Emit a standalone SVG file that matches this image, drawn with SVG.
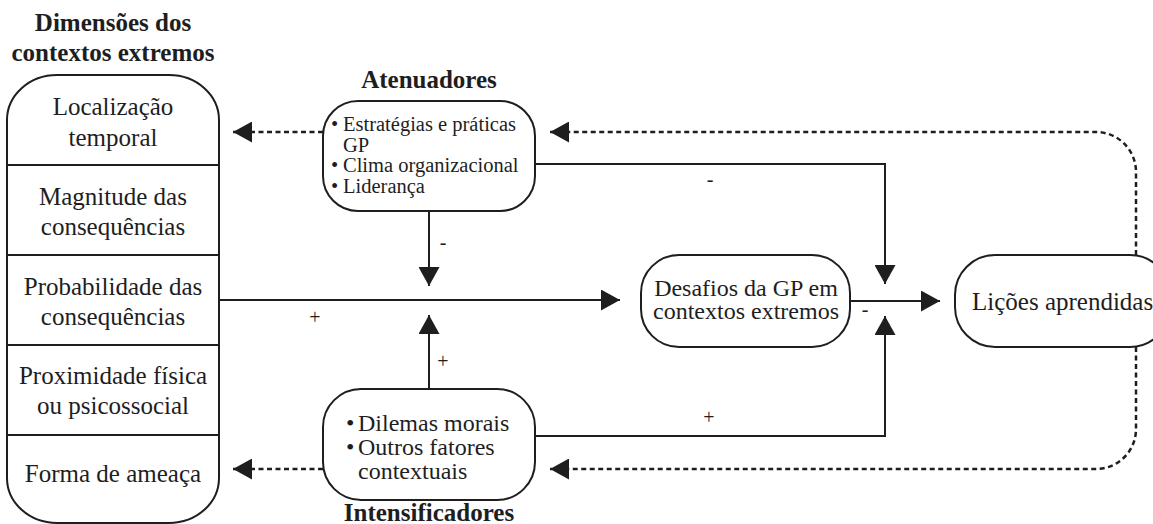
<svg xmlns="http://www.w3.org/2000/svg" width="1153" height="524" viewBox="0 0 1153 524">
  <style>
    text { font-family: 'Liberation Serif', 'DejaVu Serif', serif; fill: #1e1e1e; }
    .box { fill: #ffffff; stroke: #1e1e1e; stroke-width: 2; }
    .div { stroke: #1e1e1e; stroke-width: 2; fill: none; }
    .txt { font-size: 25px; }
    .mid { font-size: 24px; }
    .sm { font-size: 20.5px; }
    .ttl { font-size: 25px; font-weight: bold; }
    .sign { font-size: 20px; }
    .solid { stroke: #1e1e1e; stroke-width: 2; fill: none; marker-end: url(#head); }
    .dash { stroke: #1e1e1e; stroke-width: 2.5; fill: none; stroke-dasharray: 5 3.5; marker-end: url(#head); }
  </style>
  <defs>
    <marker id="head" markerUnits="userSpaceOnUse" markerWidth="19" markerHeight="21" refX="19" refY="10.5" orient="auto">
      <path d="M0,0 L19,10.5 L0,21 Z" fill="#1e1e1e"/>
    </marker>
  </defs>
  <rect width="1153" height="524" fill="#ffffff"/>

  <!-- Dimensions column -->
  <g id="dimensoes">
    <text class="ttl" x="113" y="31" text-anchor="middle">Dimensões dos</text>
    <text class="ttl" x="113" y="61" text-anchor="middle">contextos extremos</text>
    <path class="box" d="M7,120 A50,45 0 0 1 57,75 L169,75 A50,45 0 0 1 219,120 L219,478 A50,45 0 0 1 169,523 L57,523 A50,45 0 0 1 7,478 Z"/>
    <line class="div" x1="7" y1="165" x2="219" y2="165"/>
    <line class="div" x1="7" y1="255" x2="219" y2="255"/>
    <line class="div" x1="7" y1="345" x2="219" y2="345"/>
    <line class="div" x1="7" y1="435" x2="219" y2="435"/>
    <text class="txt" x="113" y="115" text-anchor="middle">Localização</text>
    <text class="txt" x="113" y="146" text-anchor="middle">temporal</text>
    <text class="txt" x="113" y="205" text-anchor="middle">Magnitude das</text>
    <text class="txt" x="113" y="235" text-anchor="middle">consequências</text>
    <text class="txt" x="113" y="295" text-anchor="middle">Probabilidade das</text>
    <text class="txt" x="113" y="325" text-anchor="middle">consequências</text>
    <text class="txt" x="113" y="384" text-anchor="middle">Proximidade física</text>
    <text class="txt" x="113" y="414" text-anchor="middle">ou psicossocial</text>
    <text class="txt" x="113" y="482" text-anchor="middle">Forma de ameaça</text>
  </g>

  <!-- Attenuating factors -->
  <g id="atenuadores">
    <text class="ttl" x="429" y="88" text-anchor="middle">Atenuadores</text>
    <rect class="box" x="323" y="101" width="212" height="110" rx="35" ry="35"/>
    <text class="sm"><tspan x="331" y="131">•</tspan><tspan x="343" y="131">Estratégias e práticas</tspan></text>
    <text class="sm" x="343" y="151.5">GP</text>
    <text class="sm"><tspan x="331" y="172">•</tspan><tspan x="343" y="172">Clima organizacional</tspan></text>
    <text class="sm"><tspan x="331" y="192.5">•</tspan><tspan x="343" y="192.5">Liderança</tspan></text>
  </g>

  <!-- Intensifying factors -->
  <g id="intensificadores">
    <rect class="box" x="323" y="389" width="212" height="111" rx="38" ry="38"/>
    <text class="mid"><tspan x="346" y="431">•</tspan><tspan x="358" y="431">Dilemas morais</tspan></text>
    <text class="mid"><tspan x="346" y="455">•</tspan><tspan x="358" y="455">Outros fatores</tspan></text>
    <text class="mid" x="358" y="479">contextuais</text>
    <text class="ttl" x="429" y="521" text-anchor="middle">Intensificadores</text>
  </g>

  <!-- Challenges -->
  <g id="desafios">
    <rect class="box" x="641" y="255" width="209" height="92" rx="38" ry="38"/>
    <text class="mid" x="746" y="296" text-anchor="middle">Desafios da GP em</text>
    <text class="mid" x="746" y="319" text-anchor="middle">contextos extremos</text>
  </g>

  <!-- Lessons learned -->
  <g id="licoes">
    <rect class="box" x="955" y="255" width="215" height="92" rx="40" ry="40"/>
    <text class="txt" x="972" y="310">Lições aprendidas</text>
  </g>

  <!-- Connectors -->
  <g id="connectors">
    <line class="solid" x1="219" y1="300" x2="620" y2="300"/>
    <line class="solid" x1="850" y1="301" x2="940" y2="301"/>
    <line class="solid" x1="429" y1="211" x2="429" y2="286"/>
    <line class="solid" x1="429" y1="389" x2="429" y2="315"/>
    <path class="solid" d="M535,164 L885,164 L885,284"/>
    <path class="solid" d="M535,436 L885,436 L885,316"/>
    <line class="dash" x1="323" y1="132" x2="233" y2="132"/>
    <line class="dash" x1="323" y1="469" x2="233" y2="469"/>
    <path class="dash" d="M1136,255 L1136,172 A40,40 0 0 0 1096,132 L550,132"/>
    <path class="dash" d="M1136,347 L1136,429 A40,40 0 0 1 1096,469 L550,469"/>
    <text class="sign" x="315" y="324" text-anchor="middle">+</text>
    <text class="sign" x="443" y="249" text-anchor="middle">-</text>
    <text class="sign" x="443" y="368" text-anchor="middle">+</text>
    <text class="sign" x="710" y="186" text-anchor="middle">-</text>
    <text class="sign" x="709" y="424" text-anchor="middle">+</text>
    <text class="sign" x="865" y="316" text-anchor="middle">-</text>
  </g>
</svg>
